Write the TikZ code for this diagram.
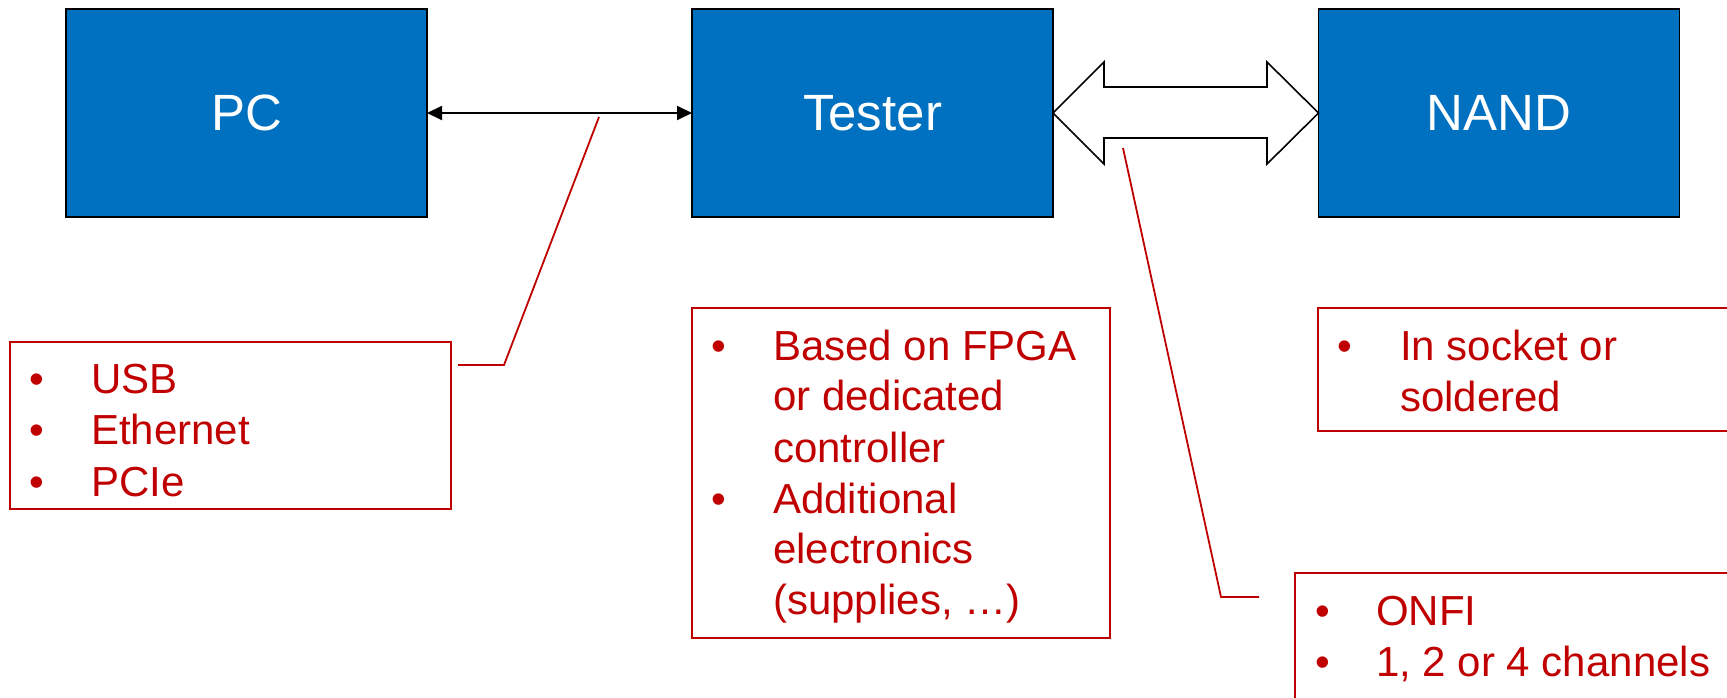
\documentclass[tikz,border=0pt]{standalone}
\usepackage{fontspec}
\setmainfont{Liberation Sans}
\usetikzlibrary{arrows.meta}
\definecolor{boxblue}{HTML}{0070C0}
\definecolor{notered}{HTML}{C00000}
\tikzset{
  bluebox/.style={draw=black, line width=1.6pt, fill=boxblue, text=white,
    font=\fontsize{51}{60}\selectfont, inner sep=0pt, outer sep=0pt,
    minimum width=361pt, minimum height=208pt},
  notebox/.style={draw=notered, line width=2pt, inner sep=0pt, outer sep=0pt},
  notetext/.style={text=notered, font=\fontsize{42}{50}\selectfont, inner sep=0pt, anchor=base west},
  callout/.style={draw=notered, line width=1.8pt},
  thinarrow/.style={line width=2pt, {Triangle[length=15pt,width=14pt]}-{Triangle[length=15pt,width=14pt]}},
  busarrow/.style={draw=black, fill=white, line width=1.6pt, line join=miter}
}
\begin{document}
\begin{tikzpicture}[x=1pt,y=-1pt]
\clip (0,0) rectangle (1727,698);
\fill[white] (0,0) rectangle (1727,698);

% main blocks
\node[bluebox] (pc) at (246.5,113) {PC};
\node[bluebox] (tester) at (872.5,113) {Tester};
\node[bluebox] (nand) at (1499,113) {NAND};

% PC <-> Tester
\draw[thinarrow] (pc.east) -- (tester.west);

% Tester <-> NAND hollow double arrow
\draw[busarrow] (tester.east) -- (1104,62) -- (1104,87) -- (1267,87) -- (1267,62)
  -- (nand.west) -- (1267,164) -- (1267,138) -- (1104,138) -- (1104,164) -- cycle;

% note boxes
\node[notebox, minimum width=441pt, minimum height=167pt] (usbbox) at (230.5,425.5) {};
\node[notebox, minimum width=418pt, minimum height=330pt] (testbox) at (901,473) {};
\node[notebox, minimum width=460pt, minimum height=123pt] (nandbox) at (1548,369.5) {};
\node[notebox, minimum width=460pt, minimum height=200pt] (onfibox) at (1525,673) {};

% callouts
\coordinate (c1a) at (599,117);
\coordinate (c1b) at (504,365);
\coordinate (c1c) at (458,365);
\draw[callout] (c1a) -- (c1b) -- (c1c);
\coordinate (c2a) at (1123,148);
\coordinate (c2b) at (1221,597);
\coordinate (c2c) at (1259,597);
\draw[callout] (c2a) -- (c2b) -- (c2c);

% USB box text
\node[notetext] (ub1) at (29,393) {•};
\node[notetext] (ut1) at (91,393) {USB};
\node[notetext] (ub2) at (29,444) {•};
\node[notetext] (ut2) at (91,444) {Ethernet};
\node[notetext] (ub3) at (29,496) {•};
\node[notetext] (ut3) at (91,496) {PCIe};

% Tester box text
\node[notetext] (tb1) at (711,360) {•};
\node[notetext] (tt1) at (773,360) {Based on FPGA};
\node[notetext] (tt2) at (773,410) {or dedicated};
\node[notetext] (tt3) at (773,462) {controller};
\node[notetext] (tb2) at (711,513) {•};
\node[notetext] (tt4) at (773,513) {Additional};
\node[notetext] (tt5) at (773,563) {electronics};
\node[notetext] (tt6) at (773,614) {(supplies, …)};

% NAND box text
\node[notetext] (nb1) at (1337,360) {•};
\node[notetext] (nt1) at (1400,360) {In socket or};
\node[notetext] (nt2) at (1400,411) {soldered};

% ONFI box text
\node[notetext] (ob1) at (1315,625) {•};
\node[notetext] (ot1) at (1376,625) {ONFI};
\node[notetext] (ob2) at (1315,676) {•};
\node[notetext] (ot2) at (1376,676) {1, 2 or 4 channels};
\end{tikzpicture}
\end{document}
